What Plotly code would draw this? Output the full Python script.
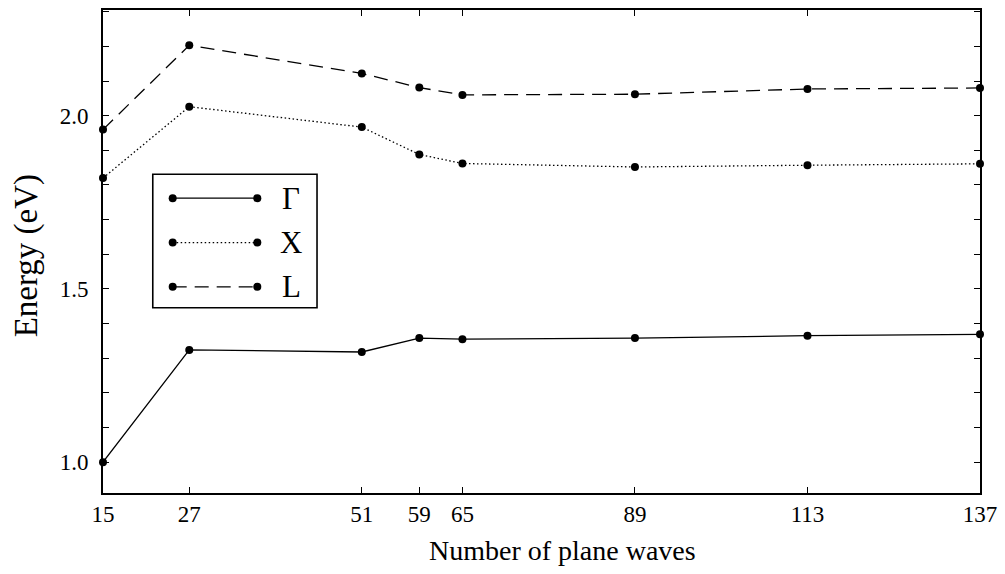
import plotly.graph_objects as go

# Data
plane_waves = [15, 27, 51, 59, 65, 89, 113, 137]
gamma = [1.000, 1.324, 1.318, 1.358, 1.355, 1.358, 1.365, 1.369]
x_pt = [1.820, 2.026, 1.967, 1.888, 1.862, 1.852, 1.857, 1.861]
l_pt = [1.960, 2.203, 2.122, 2.081, 2.060, 2.062, 2.077, 2.080]
series_names = ["Γ", "X", "L"]
x_tick_labels = ["15", "27", "51", "59", "65", "89", "113", "137"]
y_tick_vals = [1.0, 1.5, 2.0]
y_tick_text = ["1.0", "1.5", "2.0"]
x_title = "Number of plane waves"
y_title = "Energy (eV)"

FONT = "Liberation Serif"
dashes = ["solid", "1.5px,2.5px", "14px,8px"]
widths = [1.3, 1.3, 1.3]
series = [gamma, x_pt, l_pt]

fig = go.Figure()
for name, vals, d, w in zip(series_names, series, dashes, widths):
    fig.add_trace(go.Scatter(
        x=plane_waves, y=vals, mode="lines+markers", name=name,
        line=dict(color="black", width=w, dash=d),
        marker=dict(color="black", size=8),
        cliponaxis=False, showlegend=False,
    ))

# Custom legend samples (line with a dot at each end), in an inset axis
legend_y = [2, 1, 0]
for name, d, w, yy in zip(series_names, dashes, widths, legend_y):
    fig.add_trace(go.Scatter(
        x=[0, 1], y=[yy, yy], mode="lines+markers",
        line=dict(color="black", width=w, dash=d),
        marker=dict(color="black", size=8),
        xaxis="x2", yaxis="y2", showlegend=False, hoverinfo="skip",
    ))

W, H = 1005, 574
L_, R_, T_, B_ = 103, 21, 8, 81
pw = W - L_ - R_
ph = H - T_ - B_

def px_x(p):
    return (p - L_) / pw

def px_y(p):
    return (H - B_ - p) / ph

# legend box
fig.add_shape(type="rect", xref="paper", yref="paper",
              x0=px_x(153), x1=px_x(318), y0=px_y(307), y1=px_y(173),
              line=dict(color="black", width=1.6), fillcolor="white", layer="below")

for name, ypix in zip(series_names, [197, 241, 286]):
    fig.add_annotation(xref="paper", yref="paper", x=px_x(292), y=px_y(ypix),
                       text=name, showarrow=False,
                       font=dict(family=FONT, size=31, color="black"),
                       xanchor="center", yanchor="middle")

# axis titles
fig.add_annotation(xref="paper", yref="paper", x=px_x(565), y=px_y(551),
                   text=x_title, showarrow=False,
                   font=dict(family=FONT, size=28, color="black"),
                   xanchor="center", yanchor="middle")
fig.add_annotation(xref="paper", yref="paper", x=px_x(27), y=px_y(255),
                   text=y_title, showarrow=False, textangle=-90,
                   font=dict(family=FONT, size=33, color="black"),
                   xanchor="center", yanchor="middle")

fig.update_layout(
    width=W, height=H,
    margin=dict(l=L_, r=R_, t=T_, b=B_),
    plot_bgcolor="white", paper_bgcolor="white",
    font=dict(family=FONT, color="black"),
    hovermode=False,
    xaxis=dict(
        range=[15, 137], tickvals=plane_waves, ticktext=x_tick_labels,
        ticks="inside", ticklen=6, tickwidth=1.2, tickcolor="black",
        showline=True, linecolor="black", linewidth=1.6, mirror="allticks",
        showgrid=False, zeroline=False,
        tickfont=dict(family=FONT, size=23), ticklabelstandoff=0,
    ),
    yaxis=dict(
        range=[0.911, 2.305], tickvals=y_tick_vals, ticktext=y_tick_text,
        ticks="inside", ticklen=6, tickwidth=1.2, tickcolor="black",
        minor=dict(dtick=0.1, tick0=0, ticks="inside", ticklen=6, tickwidth=1.2, tickcolor="black", showgrid=False),
        showline=True, linecolor="black", linewidth=1.6, mirror="allticks",
        showgrid=False, zeroline=False,
        tickfont=dict(family=FONT, size=23), ticklabelstandoff=8,
    ),
    xaxis2=dict(domain=[px_x(173 - 8.5), px_x(258 + 8.5)], range=[-0.1, 1.1],
                visible=False, anchor="y2", fixedrange=True),
    yaxis2=dict(domain=[px_y(286 + 8.9), px_y(197 - 8.9)], range=[-0.2, 2.2],
                visible=False, anchor="x2", fixedrange=True),
)

fig.write_html("out.html", config={"displayModeBar": False},
               post_script="document.body.style.margin='0';")
